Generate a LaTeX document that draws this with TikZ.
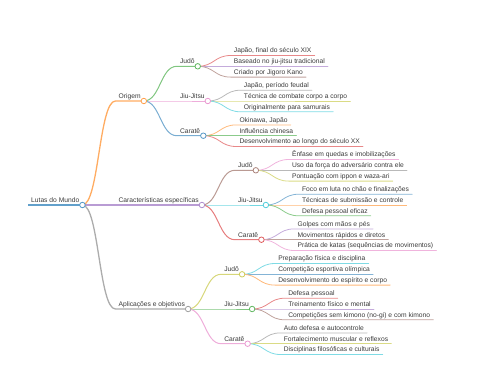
\documentclass[tikz,border=0pt]{standalone}
\usepackage{fontspec}
\setmainfont{Liberation Sans}
\usepackage{tikz}
\usetikzlibrary{positioning}
\definecolor{MapBlue}{HTML}{1F77B4}
\definecolor{MapOrange}{HTML}{FF7F0E}
\definecolor{MapGreen}{HTML}{2CA02C}
\definecolor{MapRed}{HTML}{D62728}
\definecolor{MapPurple}{HTML}{9467BD}
\definecolor{MapBrown}{HTML}{8C564B}
\definecolor{MapPink}{HTML}{E377C2}
\definecolor{MapGray}{HTML}{7F7F7F}
\definecolor{MapOlive}{HTML}{BCBD22}
\definecolor{MapCyan}{HTML}{17BECF}
\definecolor{MapText}{HTML}{3A3A3A}
\tikzset{
  topic/.style={anchor=south west,inner xsep=3pt,inner ysep=2.5pt,text depth=0pt,font=\fontsize{6.7}{8}\selectfont,text=MapText},
  sub/.style args={#1 by #2}{right=33pt of #1.south east,anchor=south west,yshift=#2},
  link/.style={out=0,in=180,distance=16.5pt,line cap=round},
  rootline/.style={line width=1.5pt,draw=#1!70},
  mainline/.style={link,line width=1.3pt,draw=#1!65},
  subline/.style={link,line width=1pt,draw=#1!60},
  leafline/.style={link,line width=0.8pt,draw=#1!55},
  knot/.style={circle,draw=#1!75,fill=white,line width=0.8pt,inner sep=0pt,minimum size=5.5pt},
}
\begin{document}
\begin{tikzpicture}
  \useasboundingbox (0,0) rectangle (480pt,-384pt);
  % Root
  \node[topic] (root) at (28pt,-205pt) {Lutas do Mundo};

  % Level 1
  \node[topic, sub=root by 104pt] (origem) {Origem};
  \node[topic, sub=root by 0pt] (carac) {Características específicas};
  \node[topic, sub=root by -104pt] (aplic) {Aplicações e objetivos};

  % Level 2: Origem
  \node[topic, sub=origem by 34.7pt] (oJudo) {Judô};
  \node[topic, sub=origem by 0pt] (oJiu) {Jiu-Jitsu};
  \node[topic, sub=origem by -34.7pt] (oKarate) {Caratê};
  % Level 2: Caracteristicas
  \node[topic, sub=carac by 34.7pt] (cJudo) {Judô};
  \node[topic, sub=carac by 0pt] (cJiu) {Jiu-Jitsu};
  \node[topic, sub=carac by -34.7pt] (cKarate) {Caratê};
  % Level 2: Aplicacoes
  \node[topic, sub=aplic by 34.7pt] (aJudo) {Judô};
  \node[topic, sub=aplic by 0pt] (aJiu) {Jiu-Jitsu};
  \node[topic, sub=aplic by -34.7pt] (aKarate) {Caratê};

  % Leaves: Origem
  \node[topic, sub=oJudo by 10.8pt] (oJudo1) {Japão, final do século XIX};
  \node[topic, sub=oJudo by 0pt] (oJudo2) {Baseado no jiu-jitsu tradicional};
  \node[topic, sub=oJudo by -10.8pt] (oJudo3) {Criado por Jigoro Kano};
  \node[topic, sub=oJiu by 10.8pt] (oJiu1) {Japão, período feudal};
  \node[topic, sub=oJiu by 0pt] (oJiu2) {Técnica de combate corpo a corpo};
  \node[topic, sub=oJiu by -10.8pt] (oJiu3) {Originalmente para samurais};
  \node[topic, sub=oKarate by 10.8pt] (oKarate1) {Okinawa, Japão};
  \node[topic, sub=oKarate by 0pt] (oKarate2) {Influência chinesa};
  \node[topic, sub=oKarate by -10.8pt] (oKarate3) {Desenvolvimento ao longo do século XX};
  % Leaves: Caracteristicas
  \node[topic, sub=cJudo by 10.8pt] (cJudo1) {Ênfase em quedas e imobilizações};
  \node[topic, sub=cJudo by 0pt] (cJudo2) {Uso da força do adversário contra ele};
  \node[topic, sub=cJudo by -10.8pt] (cJudo3) {Pontuação com ippon e waza-ari};
  \node[topic, sub=cJiu by 10.8pt] (cJiu1) {Foco em luta no chão e finalizações};
  \node[topic, sub=cJiu by 0pt] (cJiu2) {Técnicas de submissão e controle};
  \node[topic, sub=cJiu by -10.8pt] (cJiu3) {Defesa pessoal eficaz};
  \node[topic, sub=cKarate by 10.8pt] (cKarate1) {Golpes com mãos e pés};
  \node[topic, sub=cKarate by 0pt] (cKarate2) {Movimentos rápidos e diretos};
  \node[topic, sub=cKarate by -10.8pt] (cKarate3) {Prática de katas (sequências de movimentos)};
  % Leaves: Aplicacoes
  \node[topic, sub=aJudo by 10.8pt] (aJudo1) {Preparação física e disciplina};
  \node[topic, sub=aJudo by 0pt] (aJudo2) {Competição esportiva olímpica};
  \node[topic, sub=aJudo by -10.8pt] (aJudo3) {Desenvolvimento do espírito e corpo};
  \node[topic, sub=aJiu by 10.8pt] (aJiu1) {Defesa pessoal};
  \node[topic, sub=aJiu by 0pt] (aJiu2) {Treinamento físico e mental};
  \node[topic, sub=aJiu by -10.8pt] (aJiu3) {Competições sem kimono (no-gi) e com kimono};
  \node[topic, sub=aKarate by 10.8pt] (aKarate1) {Auto defesa e autocontrole};
  \node[topic, sub=aKarate by 0pt] (aKarate2) {Fortalecimento muscular e reflexos};
  \node[topic, sub=aKarate by -10.8pt] (aKarate3) {Disciplinas filosóficas e culturais};

  % Root line
  \draw[rootline=MapBlue] (root.south west) -- (root.south east);
  % Links root -> level 1
  \draw[mainline=MapOrange] (root.south east) to (origem.south west) -- (origem.south east);
  \draw[mainline=MapPurple] (root.south east) to (carac.south west) -- (carac.south east);
  \draw[mainline=MapGray] (root.south east) to (aplic.south west) -- (aplic.south east);

  % Links level 1 -> level 2
  \draw[subline=MapGreen] (origem.south east) to (oJudo.south west) -- (oJudo.south east);
  \draw[subline=MapPink] (origem.south east) to (oJiu.south west) -- (oJiu.south east);
  \draw[subline=MapBlue] (origem.south east) to (oKarate.south west) -- (oKarate.south east);
  \draw[subline=MapBrown] (carac.south east) to (cJudo.south west) -- (cJudo.south east);
  \draw[subline=MapCyan] (carac.south east) to (cJiu.south west) -- (cJiu.south east);
  \draw[subline=MapRed] (carac.south east) to (cKarate.south west) -- (cKarate.south east);
  \draw[subline=MapOlive] (aplic.south east) to (aJudo.south west) -- (aJudo.south east);
  \draw[subline=MapGreen] (aplic.south east) to (aJiu.south west) -- (aJiu.south east);
  \draw[subline=MapPink] (aplic.south east) to (aKarate.south west) -- (aKarate.south east);

  % Links level 2 -> leaves
  \foreach \p/\c/\n in {oJudo/MapRed/1, oJudo/MapPurple/2, oJudo/MapBrown/3,
      oJiu/MapGray/1, oJiu/MapOlive/2, oJiu/MapCyan/3,
      oKarate/MapOrange/1, oKarate/MapGreen/2, oKarate/MapRed/3,
      cJudo/MapPink/1, cJudo/MapGray/2, cJudo/MapOlive/3,
      cJiu/MapBlue/1, cJiu/MapOrange/2, cJiu/MapGreen/3,
      cKarate/MapPurple/1, cKarate/MapBrown/2, cKarate/MapPink/3,
      aJudo/MapCyan/1, aJudo/MapBlue/2, aJudo/MapOrange/3,
      aJiu/MapRed/1, aJiu/MapPurple/2, aJiu/MapBrown/3,
      aKarate/MapGray/1, aKarate/MapOlive/2, aKarate/MapCyan/3}
    \draw[leafline=\c] (\p.south east) to (\p\n.south west) -- (\p\n.south east);

  % Knots on the branching nodes
  \foreach \k/\c in {root/MapBlue, origem/MapOrange, carac/MapPurple, aplic/MapGray,
      oJudo/MapGreen, oJiu/MapPink, oKarate/MapBlue,
      cJudo/MapBrown, cJiu/MapCyan, cKarate/MapRed,
      aJudo/MapOlive, aJiu/MapGreen, aKarate/MapPink}
    \node[knot=\c] (\k-knot) at (\k.south east) {};
\end{tikzpicture}
\end{document}
